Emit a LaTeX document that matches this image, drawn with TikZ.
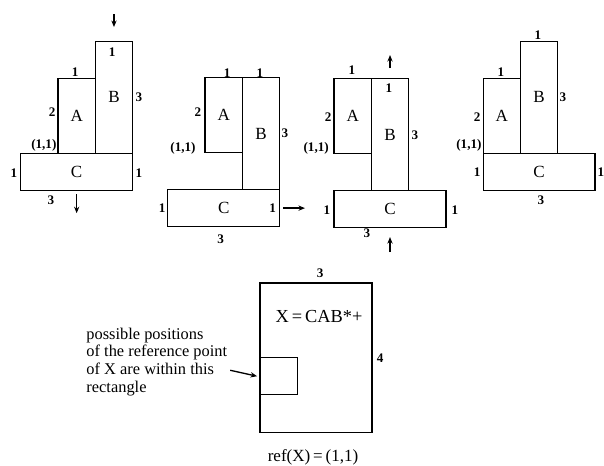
\documentclass[tikz,border=0pt]{standalone}
\usepackage{fontspec}
\setmainfont{Liberation Serif}
\usetikzlibrary{positioning,calc,arrows.meta}

\begin{document}
\begin{tikzpicture}[
    blk/.style={draw, line width=0.9pt, inner sep=0pt, outer sep=0pt, font=\fontsize{13}{14}\selectfont},
    dim/.style={font=\fontsize{10}{11}\selectfont\bfseries, inner sep=0pt},
    arr/.style={-{Stealth[length=5pt,width=4pt]}, line width=1pt}
]
    \useasboundingbox (0,0) rectangle (16.19,12.47);

    % first placement
    \begin{scope}[shift={(1.555,8.365)}]
        \node[blk, minimum width=1cm, minimum height=2cm] (A1) at (0.5,1) {A};
        \node[blk, minimum width=1cm, minimum height=3cm] (B1) at (1.5,1.5) {B};
        \node[blk, minimum width=3cm, minimum height=1cm] (C1) at (0.5,-0.5) {C};
        \node[dim] (a1w) at (0.46,2.17) {1};
        \node[dim] (b1w) at (1.45,2.71) {1};
        \node[dim] (b1h) at (2.17,1.5) {3};
        \node[dim] (a1h) at (-0.16,1.1) {2};
        \node[dim] (r1) at (-0.38,0.21) {(1,1)};
        \node[dim] (c1l) at (-1.18,-0.54) {1};
        \node[dim] (c1r) at (2.17,-0.54) {1};
        \node[dim] (c1w) at (-0.19,-1.26) {3};
        \draw[arr] ([yshift=0.72cm]B1.north) -- ([yshift=0.38cm]B1.north);
        \draw[arr] ([yshift=-0.1cm]C1.south) -- ([yshift=-0.61cm]C1.south);
    \end{scope}

    % second placement
    \begin{scope}[shift={(5.496,8.391)}]
        \node[blk, minimum width=1cm, minimum height=2cm] (A2) at (0.5,1) {A};
        \node[blk, minimum width=1cm, minimum height=3cm] (B2) at (1.5,0.5) {B};
        \node[blk, minimum width=3cm, minimum height=1cm] (C2) at (0.5,-1.5) {C};
        \node[dim] (a2w) at (0.59,2.12) {1};
        \node[dim] (b2w) at (1.47,2.12) {1};
        \node[dim] (a2h) at (-0.19,1.07) {2};
        \node[dim] (r2) at (-0.59,0.11) {(1,1)};
        \node[dim] (b2h) at (2.14,0.51) {3};
        \node[dim] (c2l) at (-1.15,-1.5) {1};
        \node[dim] (c2r) at (1.81,-1.5) {1};
        \node[dim] (c2w) at (0.42,-2.33) {3};
        \draw[arr] ([xshift=0.09cm]C2.east) -- ([xshift=0.68cm]C2.east);
    \end{scope}

    % third placement
    \begin{scope}[shift={(8.954,8.365)}]
        \node[blk, minimum width=1cm, minimum height=2cm] (A3) at (0.5,1) {A};
        \node[blk, minimum width=1cm, minimum height=3cm] (B3) at (1.5,0.5) {B};
        \node[blk, minimum width=3cm, minimum height=1cm] (C3) at (1.5,-1.5) {C};
        \node[dim] (a3w) at (0.48,2.23) {1};
        \node[dim] (b3w) at (1.47,1.74) {1};
        \node[dim] (a3h) at (-0.16,0.97) {2};
        \node[dim] (r3) at (-0.48,0.13) {(1,1)};
        \node[dim] (b3h) at (2.17,0.48) {3};
        \node[dim] (c3l) at (-0.19,-1.53) {1};
        \node[dim] (c3r) at (3.24,-1.53) {1};
        \node[dim] (c3w) at (0.88,-2.14) {3};
        \draw[arr] ([yshift=0.28cm]B3.north) -- ([yshift=0.63cm]B3.north);
        \draw[arr] ([yshift=-0.65cm]C3.south) -- ([yshift=-0.25cm]C3.south);
    \end{scope}

    % fourth placement
    \begin{scope}[shift={(12.949,8.365)}]
        \node[blk, minimum width=1cm, minimum height=2cm] (A4) at (0.5,1) {A};
        \node[blk, minimum width=1cm, minimum height=3cm] (B4) at (1.5,1.5) {B};
        \node[blk, minimum width=3cm, minimum height=1cm] (C4) at (1.5,-0.5) {C};
        \node[dim] (b4w) at (1.47,3.16) {1};
        \node[dim] (a4w) at (0.48,2.17) {1};
        \node[dim] (b4h) at (2.14,1.5) {3};
        \node[dim] (a4h) at (-0.16,0.97) {2};
        \node[dim] (r4) at (-0.38,0.21) {(1,1)};
        \node[dim] (c4l) at (-0.16,-0.51) {1};
        \node[dim] (c4r) at (3.16,-0.51) {1};
        \node[dim] (c4w) at (1.55,-1.26) {3};
    \end{scope}

    % combined block X
    \begin{scope}[shift={(6.971,0.885)}]
        \node[blk, minimum width=3cm, minimum height=4cm] (X) at (1.5,2) {};
        \node[blk, minimum width=1cm, minimum height=1cm] (refbox) at (0.5,1.5) {};
        \node[dim] (xw) at (1.61,4.26) {3};
        \node[dim] (xh) at (3.22,1.98) {4};
        \node[font=\fontsize{14}{15}\selectfont, inner sep=0pt] (xexpr) at (1.58,3.11) {X\,=\,CAB*+};
        \node[font=\fontsize{13}{14}\selectfont, inner sep=0pt] (xref) at (1.42,-0.67) {ref(X)\,=\,(1,1)};
        \node[font=\fontsize{12.5}{13.7}\selectfont, align=left, inner sep=0pt, anchor=west] (note) at (-4.66,1.88)
            {possible positions\\of the reference point\\of X are within this\\rectangle};
        \coordinate (tail) at (-0.8,1.66);
        \draw[arr] (tail) -- ([xshift=-0.08cm]refbox.west);
    \end{scope}
\end{tikzpicture}
\end{document}
